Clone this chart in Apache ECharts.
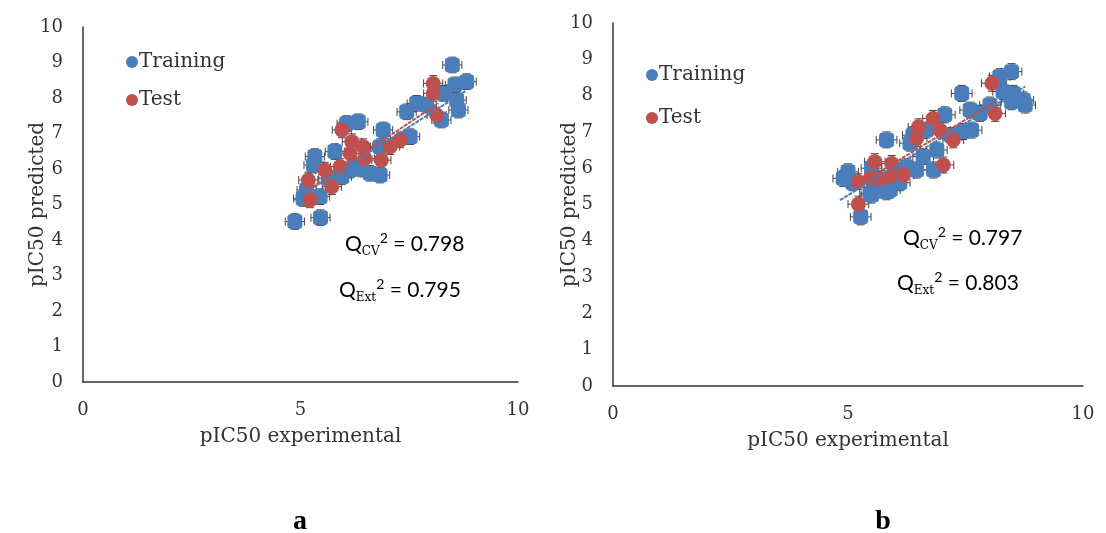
<!DOCTYPE html>
<html><head><meta charset="utf-8">
<script src="https://cdn.jsdelivr.net/npm/echarts@6/dist/echarts.min.js"></script>
<style>html,body{margin:0;padding:0;background:#fff}#c{width:1106px;height:533px}</style>
</head><body><div id="c"></div>
<script>
// Panel a
const trainingA = [[4.87,4.52],[5.46,4.63],[8.49,8.93],[8.82,8.46],[8.55,8.37],[8.28,8.13],[8.59,7.94],[8.63,7.66],[8.24,7.38],[7.44,7.61],[7.67,7.85],[7.90,7.80],[6.90,7.10],[7.52,6.91],[6.83,6.63],[6.83,5.83],[6.60,5.88],[6.25,6.11],[6.06,7.28],[6.33,7.33],[5.79,6.49],[5.33,6.35],[5.30,6.11],[5.64,5.74],[5.95,5.78],[5.14,5.41],[5.45,5.22],[5.06,5.17],[6.14,5.97],[6.40,6.00]];
const testA = [[8.05,8.41],[8.05,8.13],[8.13,7.52],[7.29,6.82],[7.06,6.63],[6.86,6.25],[6.48,6.30],[6.44,6.63],[6.18,6.77],[5.95,7.10],[6.14,6.44],[5.56,5.97],[5.91,6.07],[5.18,5.69],[5.72,5.50],[5.22,5.13]];
// Panel b
const trainingB = [[5.27,4.66],[4.90,5.72],[5.50,6.00],[5.82,6.78],[5.61,5.40],[5.89,5.40],[5.47,5.31],[6.46,5.95],[6.60,6.32],[6.82,5.95],[6.89,6.50],[6.32,6.69],[6.67,7.05],[7.06,7.47],[7.45,7.01],[7.63,7.05],[7.60,7.60],[7.42,8.06],[7.81,7.51],[8.02,7.74],[8.23,8.52],[8.48,8.66],[8.30,8.11],[8.52,8.06],[8.73,7.88],[8.77,7.74],[8.48,7.83],[5.50,5.26],[5.82,5.35],[6.38,6.91],[6.25,6.04],[5.00,5.90],[5.10,5.60],[6.10,5.60],[6.00,5.90],[7.20,6.90]];
const testB = [[5.22,5.01],[5.22,5.63],[5.47,5.72],[5.68,5.72],[5.89,5.77],[6.18,5.81],[5.57,6.18],[5.93,6.13],[6.46,6.82],[6.50,7.14],[6.81,7.37],[6.96,7.05],[7.03,6.09],[7.24,6.78],[8.13,7.51],[8.06,8.34]];
// Trend lines (endpoints)
const fitTrainA = [[4.83,5.11],[8.80,8.20]];
const fitTestA = [[5.18,5.41],[8.17,7.85]];
const fitTrainB = [[4.83,5.12],[8.77,8.25]];
const fitTestB = [[5.15,5.49],[8.13,7.83]];
const statsA = ['0.798','0.795'];
const statsB = ['0.797','0.803'];
const ERR = 0.22;
const legendNames = ['Training','Test'];
const xName = 'pIC50 experimental';
const yName = 'pIC50 predicted';

const BLUE = '#4A7EBB', RED = '#C0504D', TXT = '#333';
const SERIF = '"DejaVu Serif", serif';

function xAxis(gi){
  return {gridIndex:gi, type:'value', min:0, max:10, interval:5,
    splitLine:{show:false}, axisTick:{show:false},
    axisLine:{lineStyle:{color:'#333', width:1.5}},
    axisLabel:{color:TXT, fontFamily:SERIF, fontSize:18, margin:19},
    name:xName, nameLocation:'middle', nameGap:45, nameMoveOverlap:false,
    nameTextStyle:{color:TXT, fontFamily:SERIF, fontSize:20}};
}
function yAxis(gi, gap){
  return {gridIndex:gi, type:'value', min:0, max:10, interval:1,
    splitLine:{show:false}, axisTick:{show:false},
    axisLine:{show:true, lineStyle:{color:'#333', width:1.5}},
    axisLabel:{color:TXT, fontFamily:SERIF, fontSize:18, margin:20},
    name:yName, nameLocation:'middle', nameGap:gap, nameRotate:90, nameMoveOverlap:false,
    nameTextStyle:{color:TXT, fontFamily:SERIF, fontSize:20}};
}
function errBars(data, gi){
  return {type:'custom', xAxisIndex:gi, yAxisIndex:gi, z:1, silent:true,
    data:data, encode:{x:0,y:1},
    renderItem:function(params, api){
      const x=api.value(0), y=api.value(1);
      const l=api.coord([x-ERR,y]), r=api.coord([x+ERR,y]);
      const t=api.coord([x,y+ERR]), b=api.coord([x,y-ERR]);
      const c=4, st={stroke:'#444', lineWidth:1};
      const L=(x1,y1,x2,y2)=>({type:'line', shape:{x1,y1,x2,y2}, style:st});
      return {type:'group', children:[
        L(l[0],l[1],r[0],r[1]), L(l[0],l[1]-c,l[0],l[1]+c), L(r[0],r[1]-c,r[0],r[1]+c),
        L(t[0],t[1],b[0],b[1]), L(t[0]-c,t[1],t[0]+c,t[1]), L(b[0]-c,b[1],b[0]+c,b[1])
      ]};
    }};
}
function scatter(name, data, gi, sym, color){
  return {name, type:'scatter', xAxisIndex:gi, yAxisIndex:gi, data, z:3,
    symbol:sym, symbolSize:15, itemStyle:{color, opacity:1}};
}
function fit(name, data, gi, color){
  return {name, type:'line', xAxisIndex:gi, yAxisIndex:gi, data, z:4, showSymbol:false,
    symbol:'none', lineStyle:{color, width:2, type:[4,1]}};
}
function statText(x, y, sub, val){
  return {type:'text', x, y, z:10, style:{
    text:'{q|Q}{s|'+sub+'}{p|2}{q| = '+val+'}',
    verticalAlign:'middle',
    rich:{
      q:{fontFamily:'Lato, sans-serif', fontSize:21, color:TXT, lineHeight:26, verticalAlign:'bottom'},
      s:{fontFamily:SERIF, fontSize:12, color:TXT, lineHeight:26, verticalAlign:'bottom', padding:[0,0,-3,0]},
      p:{fontFamily:'Lato, sans-serif', fontSize:14, color:TXT, lineHeight:26, verticalAlign:'top', padding:[2,0,0,0]}
    }}};
}

const chart = echarts.init(document.getElementById('c'), null, {renderer:'canvas'});
chart.setOption({
  animation:false,
  backgroundColor:'#fff',
  grid:[
    {left:83, top:27, right:588, bottom:151},
    {left:613, top:23, right:23, bottom:147}
  ],
  xAxis:[xAxis(0), xAxis(1)],
  yAxis:[yAxis(0,35), yAxis(1,33)],
  legend:[
    {data:legendNames, orient:'vertical', left:121, top:47, itemGap:18, icon:'circle', itemWidth:12, itemHeight:12,
     textStyle:{color:TXT, fontFamily:SERIF, fontSize:20, padding:[0,0,0,-4]}},
    {data:legendNames, orient:'vertical', left:641, top:60, itemGap:23, icon:'circle', itemWidth:12, itemHeight:12,
     textStyle:{color:TXT, fontFamily:SERIF, fontSize:20, padding:[0,0,0,-4]}}
  ],
  series:[
    errBars(trainingA.concat(testA), 0),
    errBars(trainingB.concat(testB), 1),
    scatter('Training', trainingA, 0, 'roundRect', BLUE),
    scatter('Test', testA, 0, 'circle', RED),
    scatter('Training', trainingB, 1, 'roundRect', BLUE),
    scatter('Test', testB, 1, 'circle', RED),
    fit('Linear (Training)', fitTrainA, 0, BLUE),
    fit('Linear (Test)', fitTestA, 0, RED),
    fit('Linear (Training) b', fitTrainB, 1, BLUE),
    fit('Linear (Test) b', fitTestB, 1, RED)
  ],
  graphic:[
    statText(345, 242, 'CV', statsA[0]),
    statText(339, 288, 'Ext', statsA[1]),
    statText(903, 236, 'CV', statsB[0]),
    statText(897, 281, 'Ext', statsB[1]),
    {type:'text', x:300, y:522, style:{text:'a', fontFamily:'"Liberation Serif", serif', fontWeight:'bold', fontSize:28, fill:'#000', align:'center', verticalAlign:'middle'}},
    {type:'text', x:883, y:522, style:{text:'b', fontFamily:'"Liberation Serif", serif', fontWeight:'bold', fontSize:28, fill:'#000', align:'center', verticalAlign:'middle'}}
  ]
});
</script></body></html>
